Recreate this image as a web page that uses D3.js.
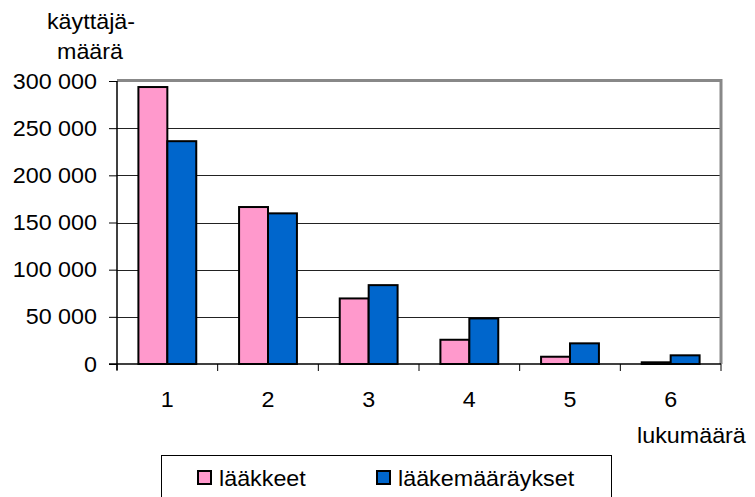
<!DOCTYPE html>
<html>
<head>
<meta charset="utf-8">
<script src="https://cdn.jsdelivr.net/npm/d3@7"></script>
<style>
  body { margin: 0; background: #fff; }
  text { font-family: "Liberation Sans", Arial, sans-serif; font-size: 22px; fill: #000; }
</style>
</head>
<body>
<svg width="755" height="497"></svg>
<script>
// data
const categories = ['1', '2', '3', '4', '5', '6']
const seriesNames = ['lääkkeet', 'lääkemääräykset']
const laakkeet = [293600, 166400, 69500, 25700, 7700, 1800]
const laakemaaraykset = [236200, 159700, 83600, 48300, 21900, 9200]
const yTicks = [0, 50000, 100000, 150000, 200000, 250000, 300000]
const colors = ['#ff99cc', '#0066cc']

const svg = d3.select('svg')
const plotLeft = 117, plotRight = 721, plotTop = 81, plotBottom = 364
const stretch = 1.06

const x = d3.scaleBand().domain(categories).range([plotLeft, plotRight])
const xs = d3.scaleBand().domain(seriesNames).range([0, x.bandwidth()]).paddingOuter(0.74)
const y = d3.scaleLinear().domain([0, 300000]).range([plotBottom, plotTop])

const fmt = v => d3.format(',')(v).replace(/,/g, ' ')

// text helper, the original font looks a bit wide
function label(tx, ty, str, anchor = 'start') {
    return svg.append('text')
        .attr('transform', `translate(${tx},${ty}) scale(${stretch},1)`)
        .attr('text-anchor', anchor)
        .text(str)
}

// grid lines
svg.append('g').selectAll('line')
    .data(yTicks.filter(d => d > 0 && d < 300000))
    .join('line')
    .attr('x1', plotLeft).attr('x2', plotRight)
    .attr('y1', d => Math.round(y(d)) + 0.5).attr('y2', d => Math.round(y(d)) + 0.5)
    .style('stroke', '#222').style('stroke-width', 1)

// grey frame top and right
svg.append('path')
    .attr('d', `M${plotLeft},${plotTop - 0.5}H${plotRight}V${plotBottom}`)
    .style('fill', 'none').style('stroke', '#888').style('stroke-width', 3)

// bars
const rows = categories.map((c, i) => ({ c, vals: [laakkeet[i], laakemaaraykset[i]] }))
svg.append('g').selectAll('g')
    .data(rows)
    .join('g')
    .attr('transform', d => `translate(${x(d.c)},0)`)
    .selectAll('rect')
    .data(d => d.vals.map((v, k) => ({ k, v })))
    .join('rect')
    .attr('x', d => xs(seriesNames[d.k]))
    .attr('y', d => y(d.v))
    .attr('width', xs.bandwidth())
    .attr('height', d => plotBottom - y(d.v))
    .style('fill', d => colors[d.k])
    .style('stroke', '#000').style('stroke-width', 2)

// y axis
const yAxis = svg.append('g')
    .attr('transform', `translate(${plotLeft},0)`)
    .call(d3.axisLeft(y).tickValues(yTicks).tickSize(8).tickFormat(fmt))
yAxis.select('.domain').remove()
yAxis.selectAll('.tick line').style('stroke', '#000')
yAxis.selectAll('.tick text')
    .attr('x', -20 / stretch)
    .attr('transform', `scale(${stretch},1)`)
    .style('font-size', '22px').style('font-family', '"Liberation Sans", Arial, sans-serif')
svg.append('line')
    .attr('x1', plotLeft).attr('x2', plotLeft).attr('y1', plotTop).attr('y2', plotBottom + 6)
    .style('stroke', '#000').style('stroke-width', 1.5)

// x axis, ticks sit on the band edges
svg.append('line')
    .attr('x1', plotLeft - 8).attr('x2', plotRight).attr('y1', plotBottom).attr('y2', plotBottom)
    .style('stroke', '#000').style('stroke-width', 1.5)
svg.append('g').selectAll('line')
    .data(categories.map(c => x(c)).concat([plotRight]))
    .join('line')
    .attr('x1', d => d).attr('x2', d => d)
    .attr('y1', plotBottom).attr('y2', plotBottom + 7)
    .style('stroke', '#000')
categories.forEach(c => label(x(c) + x.bandwidth() / 2, 407, c, 'middle'))

// axis titles
label(91, 29, 'käyttäjä-', 'middle')
label(90, 59, 'määrä', 'middle')
label(637, 443, 'lukumäärä')

// legend
svg.append('rect')
    .attr('x', 161.5).attr('y', 455.5).attr('width', 450).attr('height', 60)
    .style('fill', '#fff').style('stroke', '#000').style('stroke-width', 1)
const legendX = [198, 377]
seriesNames.forEach((s, k) => {
    svg.append('rect')
        .attr('x', legendX[k]).attr('y', 471).attr('width', 13).attr('height', 13)
        .style('fill', colors[k]).style('stroke', '#000').style('stroke-width', 2)
    label(legendX[k] + 21, 486, s)
})
</script>
</body>
</html>
